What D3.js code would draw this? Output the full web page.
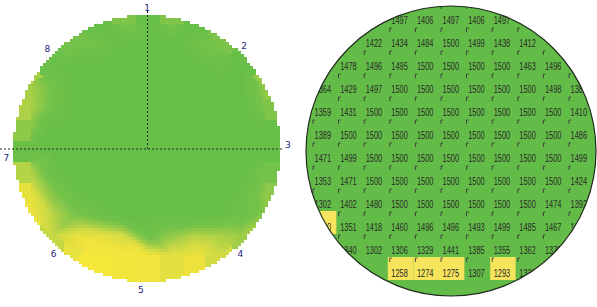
<!DOCTYPE html>
<html>
<head>
<meta charset="utf-8">
<script src="https://cdn.jsdelivr.net/npm/d3@7"></script>
<style>
  body { margin: 0; background: #fff; }
  svg { display: block; }
</style>
</head>
<body>
<div id="chart"></div>
<script>
// measured site values, one array per wafer row (top to bottom)
var row01 = [1497, 1406, 1497, 1406, 1497];
var row02 = [1422, 1434, 1484, 1500, 1499, 1438, 1412];
var row03 = [1478, 1496, 1495, 1500, 1500, 1500, 1500, 1463, 1496];
var row04 = [1364, 1429, 1497, 1500, 1500, 1500, 1500, 1500, 1500, 1498, 1382];
var row05 = [1359, 1431, 1500, 1500, 1500, 1500, 1500, 1500, 1500, 1500, 1410];
var row06 = [1389, 1500, 1500, 1500, 1500, 1500, 1500, 1500, 1500, 1500, 1486];
var row07 = [1471, 1499, 1500, 1500, 1500, 1500, 1500, 1500, 1500, 1500, 1499];
var row08 = [1353, 1471, 1500, 1500, 1500, 1500, 1500, 1500, 1500, 1500, 1424];
var row09 = [1302, 1402, 1480, 1500, 1500, 1500, 1500, 1500, 1500, 1474, 1392];
var row10 = [1290, 1351, 1418, 1460, 1496, 1496, 1493, 1499, 1485, 1467, 1398];
var row11 = [1340, 1302, 1306, 1329, 1441, 1385, 1355, 1362, 1372];
var row12 = [1258, 1274, 1275, 1307, 1293, 1330];

// first column index of each row
var rowStart = [3, 2, 1, 0, 0, 0, 0, 0, 0, 0, 1, 3];
var rowValues = [row01, row02, row03, row04, row05, row06, row07, row08, row09, row10, row11, row12];

var siteLabels = ["1", "2", "3", "4", "5", "6", "7", "8"];
var passLimit = 1300;

var svgWidth = 597;
var svgHeight = 307;

var green = "#63bc47";
var yellow = "#f6e45c";

var svg = d3.select("#chart")
    .append("svg")
    .attr("width", svgWidth)
    .attr("height", svgHeight);

// flatten the rows into sites
var sites = [];
rowValues.forEach(function(vals, r) {
    vals.forEach(function(v, i) {
        sites.push({ row: r, col: rowStart[r] + i, value: v });
    });
});

var colIds = d3.range(11);
var rowIds = d3.range(12);

// ---------- right: site value map ----------
var right = { cx: 451, cy: 151, r: 145 };

var xRight = d3.scaleBand().domain(colIds).range([311, 592.6]);
var yRight = d3.scaleBand().domain(rowIds).range([4, 280]);

var binColor = d3.scaleThreshold()
    .domain([passLimit])
    .range([yellow, green]);

svg.append("clipPath")
    .attr("id", "waferClip")
    .append("circle")
    .attr("cx", right.cx)
    .attr("cy", right.cy)
    .attr("r", right.r);

var rightGroup = svg.append("g");

rightGroup.append("circle")
    .attr("cx", right.cx)
    .attr("cy", right.cy)
    .attr("r", right.r)
    .attr("fill", green);

var cellGroup = rightGroup.append("g")
    .attr("clip-path", "url(#waferClip)");

cellGroup.selectAll("rect")
    .data(sites)
    .enter()
    .append("rect")
    .attr("x", d => xRight(d.col))
    .attr("y", d => yRight(d.row))
    .attr("width", xRight.bandwidth())
    .attr("height", yRight.bandwidth())
    .attr("fill", d => binColor(d.value));

// little corner marks on each die
cellGroup.selectAll("path.mark")
    .data(sites)
    .enter()
    .append("path")
    .attr("class", "mark")
    .attr("d", function(d) {
        var x = xRight(d.col) + 2, y = yRight(d.row) + 1;
        return "M" + x + "," + (y + 4) + "V" + y + "H" + (x + 2);
    })
    .attr("fill", "none")
    .attr("stroke", "#3a3a3a")
    .attr("stroke-width", 0.9);

cellGroup.selectAll("text")
    .data(sites)
    .enter()
    .append("text")
    .attr("x", d => xRight(d.col) + xRight.bandwidth() / 2 - 1)
    .attr("y", d => yRight(d.row) + 19.5)
    .attr("text-anchor", "middle")
    .attr("textLength", 16.5)
    .attr("lengthAdjust", "spacingAndGlyphs")
    .style("font-family", "'Liberation Sans', Arial, sans-serif")
    .style("font-size", "10.5px")
    .attr("fill", "#2a2a2a")
    .text(d => d.value);

rightGroup.append("circle")
    .attr("cx", right.cx)
    .attr("cy", right.cy)
    .attr("r", right.r)
    .attr("fill", "none")
    .attr("stroke", "#1f2a1c")
    .attr("stroke-width", 1.2);

// ---------- left: interpolated contour map ----------
var left = { cx: 147, cy: 148.5, r: 133.5 };
var step = 3;

var xLeft = d3.scaleBand().domain(colIds).range([18, 277]);
var yLeft = d3.scaleBand().domain(rowIds).range([13, 267]);

var pts = sites.map(d => [xLeft(d.col) + xLeft.bandwidth() / 2, yLeft(d.row) + yLeft.bandwidth() / 2]);
var delaunay = d3.Delaunay.from(pts);
var tri = delaunay.triangles;

function valueAt(x, y) {
    for (var t = 0; t < tri.length; t += 3) {
        var a = pts[tri[t]], b = pts[tri[t + 1]], c = pts[tri[t + 2]];
        var det = (b[1] - c[1]) * (a[0] - c[0]) + (c[0] - b[0]) * (a[1] - c[1]);
        var l1 = ((b[1] - c[1]) * (x - c[0]) + (c[0] - b[0]) * (y - c[1])) / det;
        var l2 = ((c[1] - a[1]) * (x - c[0]) + (a[0] - c[0]) * (y - c[1])) / det;
        var l3 = 1 - l1 - l2;
        if (l1 >= -1e-9 && l2 >= -1e-9 && l3 >= -1e-9) {
            return l1 * sites[tri[t]].value + l2 * sites[tri[t + 1]].value + l3 * sites[tri[t + 2]].value;
        }
    }
    return sites[delaunay.find(x, y)].value;
}

var mapColor = d3.scaleLinear()
    .domain([1258, 1290, 1330, 1370, 1420, 1500])
    .range(["#f5e63a", "#efe33d", "#d2db43", "#a0cd48", "#74c249", "#66bf48"])
    .clamp(true);

var pixels = [];
var x0 = Math.floor(left.cx - left.r), y0 = Math.floor(left.cy - left.r);
for (var py = y0; py < left.cy + left.r; py += step) {
    for (var px = x0; px < left.cx + left.r; px += step) {
        var mx = px + step / 2, my = py + step / 2;
        if ((mx - left.cx) * (mx - left.cx) + (my - left.cy) * (my - left.cy) <= left.r * left.r) {
            pixels.push({ x: px, y: py, v: valueAt(mx, my) });
        }
    }
}

var leftGroup = svg.append("g");

leftGroup.append("g")
    .attr("shape-rendering", "crispEdges")
    .selectAll("rect")
    .data(pixels)
    .enter()
    .append("rect")
    .attr("x", d => d.x)
    .attr("y", d => d.y)
    .attr("width", step)
    .attr("height", step)
    .attr("fill", d => mapColor(d.v));

// cross hair
leftGroup.append("line")
    .attr("x1", 0).attr("x2", left.cx + left.r + 3)
    .attr("y1", left.cy + 0.5).attr("y2", left.cy + 0.5)
    .attr("stroke", "#222")
    .attr("stroke-dasharray", "2,2");

leftGroup.append("line")
    .attr("x1", left.cx + 0.5).attr("x2", left.cx + 0.5)
    .attr("y1", left.cy - left.r - 4).attr("y2", left.cy)
    .attr("stroke", "#222")
    .attr("stroke-dasharray", "2,2");

// notch labels around the edge (angles in degrees, clockwise from the right)
var labelAngle = [-90, -46.5, -1.5, 48.5, 92.5, 131.5, 176, -135];
leftGroup.selectAll("text")
    .data(siteLabels)
    .enter()
    .append("text")
    .attr("x", (d, i) => left.cx + 141 * Math.cos(labelAngle[i] * Math.PI / 180))
    .attr("y", (d, i) => left.cy + 141 * Math.sin(labelAngle[i] * Math.PI / 180))
    .attr("dy", "0.35em")
    .attr("text-anchor", "middle")
    .style("font-family", "'DejaVu Sans', sans-serif")
    .style("font-size", "9px")
    .attr("fill", "#23237e")
    .text(d => d);
</script>
</body>
</html>
